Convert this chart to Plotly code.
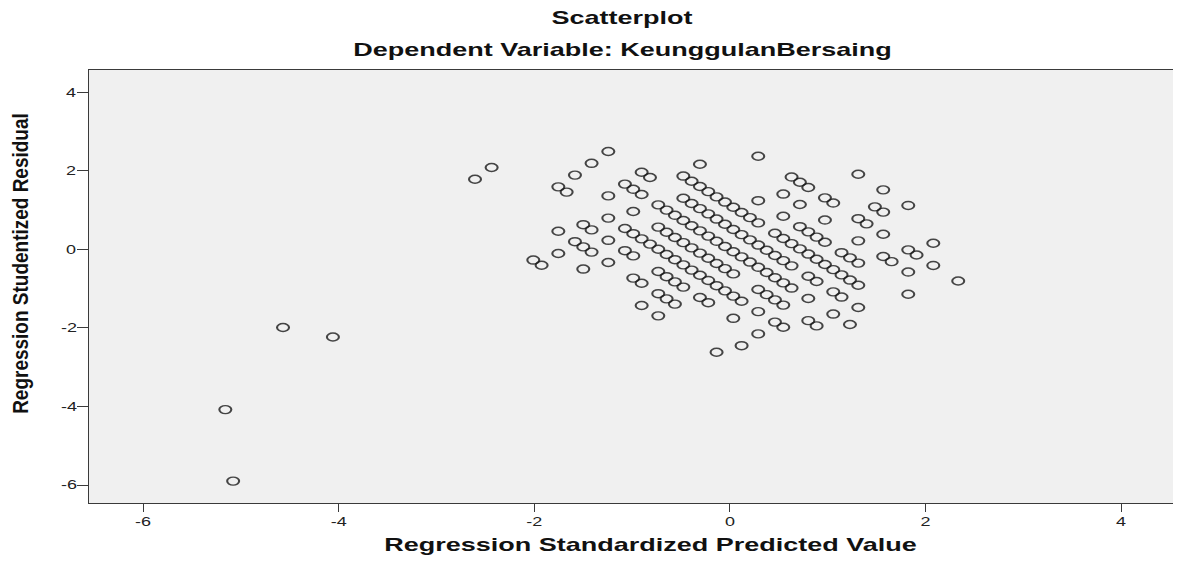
import plotly.graph_objects as go

# Regression Standardized Predicted Value (x) and Studentized Residual (y)
pred_a = [1.312, 1.567, 1.823, 1.482, 1.567, 2.079,
          0.289, 0.630, 0.715, 0.801, 0.971, 1.056, 1.312, 1.397, 1.567, 1.823, 1.908, 2.079, 2.334,
          0.545, 0.715, 0.971, 1.312, 1.567, 1.653, 1.823,
          -0.307, 0.289, 0.545, 0.715, 0.801, 0.886, 0.971, 1.141, 1.227, 1.312, 1.823]
resid_a = [1.913, 1.516, 1.119, 1.083, 0.950, 0.156,
           2.371, 1.842, 1.709, 1.577, 1.312, 1.180, 0.782, 0.650, 0.385, -0.012, -0.144, -0.409, -0.806,
           1.409, 1.144, 0.747, 0.217, -0.180, -0.312, -0.577,
           2.167, 1.240, 0.843, 0.578, 0.446, 0.313, 0.181, -0.084, -0.216, -0.349, -1.143]

pred_b = [-0.477, -0.392, -0.307, -0.222, -0.137, -0.051, 0.034, 0.119, 0.204, 0.289,
          0.460, 0.545, 0.630, 0.715, 0.801, 0.886, 0.971, 1.056, 1.141, 1.227, 1.312]
resid_b = [1.867, 1.734, 1.602, 1.470, 1.337, 1.205, 1.072, 0.940, 0.808, 0.675,
           0.410, 0.278, 0.146, 0.013, -0.119, -0.252, -0.384, -0.516, -0.649, -0.781, -0.914]

pred_c = [-1.244, -0.903, -0.818, -0.477, -0.392, -0.307, -0.222, -0.137, -0.051, 0.034, 0.119,
          0.204, 0.289, 0.375, 0.460, 0.545, 0.630, 0.801, 0.886, 1.056, 1.141, 1.312]
resid_c = [2.493, 1.964, 1.831, 1.302, 1.169, 1.037, 0.905, 0.772, 0.640, 0.507, 0.375,
           0.243, 0.110, -0.022, -0.155, -0.287, -0.419, -0.684, -0.817, -1.081, -1.214, -1.479]

pred_d = [-1.415, -1.074, -0.989, -0.903, -0.733, -0.648, -0.563, -0.477, -0.392, -0.307, -0.222,
          -0.137, -0.051, 0.034, 0.119, 0.204, 0.289, 0.375, 0.460, 0.545, 0.630, 0.801, 1.056, 1.227]
resid_d = [2.192, 1.663, 1.530, 1.398, 1.133, 1.001, 0.868, 0.736, 0.603, 0.471, 0.339,
           0.206, 0.074, -0.059, -0.191, -0.323, -0.456, -0.588, -0.721, -0.853, -0.985, -1.250, -1.647, -1.912]

pred_e = [-1.585, -1.244, -0.989, -0.733, -0.648, -0.563, -0.477, -0.392, -0.307, -0.222, -0.137,
          -0.051, 0.034, 0.289, 0.375, 0.460, 0.545, 0.801, 0.886]
resid_e = [1.892, 1.362, 0.965, 0.568, 0.436, 0.303, 0.171, 0.038, -0.094, -0.226, -0.359,
           -0.491, -0.624, -1.021, -1.153, -1.286, -1.418, -1.815, -1.948]

pred_f = [-1.755, -1.670, -1.244, -1.074, -0.989, -0.903, -0.818, -0.733, -0.648, -0.563, -0.477,
          -0.392, -0.307, -0.222, -0.137, -0.051, 0.034, 0.119, 0.289, 0.460, 0.545]
resid_f = [1.592, 1.459, 0.797, 0.533, 0.400, 0.268, 0.135, 0.003, -0.129, -0.262, -0.394,
           -0.527, -0.659, -0.791, -0.924, -1.056, -1.189, -1.321, -1.586, -1.851, -1.983]

pred_g = [-2.437, -1.500, -1.415, -1.244, -1.074, -0.989, -0.733, -0.648, -0.563, -0.477,
          -0.307, -0.222, 0.034, 0.289]
resid_g = [2.085, 0.629, 0.496, 0.231, -0.033, -0.166, -0.563, -0.695, -0.828, -0.960,
           -1.225, -1.357, -1.755, -2.152]

pred_h = [-2.607, -1.755, -1.585, -1.500, -1.415, -1.244, -0.989, -0.903, -0.733, -0.648, -0.563, 0.119,
          -1.755, -1.500, -0.903, -0.733, -0.137, -2.011, -1.926]
resid_h = [1.785, 0.461, 0.196, 0.064, -0.069, -0.334, -0.731, -0.863, -1.128, -1.260, -1.393, -2.452,
           -0.104, -0.501, -1.428, -1.693, -2.620, -0.272, -0.404]

pred_out = [-4.57, -4.06, -5.16, -5.08]
resid_out = [-1.99, -2.23, -4.08, -5.90]

tick_vals = [-6, -4, -2, 0, 2, 4]
tick_text = ["-6", "-4", "-2", "0", "2", "4"]

xs = pred_a + pred_b + pred_c + pred_d + pred_e + pred_f + pred_g + pred_h + pred_out
ys = resid_a + resid_b + resid_c + resid_d + resid_e + resid_f + resid_g + resid_h + resid_out

FONT = "Liberation Sans, Arial, sans-serif"

fig = go.Figure()
fig.add_trace(go.Scatter(
    x=xs, y=ys, mode="markers",
    marker=dict(symbol="circle-open", size=8, color="rgba(25,25,25,0.8)",
                line=dict(width=1.4, color="rgba(25,25,25,0.8)")),
    showlegend=False, hoverinfo="skip"))

axis_common = dict(
    showgrid=False, zeroline=False, showline=True, linecolor="#3a3a3a", linewidth=1.2,
    mirror=True, ticks="outside", tickcolor="#3a3a3a", tickwidth=1.2,
    tickvals=tick_vals, ticktext=tick_text,
    tickfont=dict(family=FONT, size=12, color="#222222"),
)

fig.update_layout(
    width=1173, height=553,
    margin=dict(l=81, r=4, t=62, b=58),
    paper_bgcolor="white", plot_bgcolor="#f0f0f0",
    xaxis=dict(range=[-6.554, 4.571], ticklen=8, **axis_common),
    yaxis=dict(range=[-6.458, 4.568], ticklen=11, **axis_common),
)

fig.add_annotation(text="<b>Scatterplot</b>", xref="paper", yref="paper", x=0.49, y=1.0, yshift=52,
                   yanchor="middle", showarrow=False, font=dict(family=FONT, size=18, color="#111"))
fig.add_annotation(text="<b>Dependent Variable: KeunggulanBersaing</b>", xref="paper", yref="paper",
                   x=0.49, y=1.0, yshift=20, yanchor="middle", showarrow=False,
                   font=dict(family=FONT, size=18, color="#111"))
fig.add_annotation(text="<b>Regression Standardized Predicted Value</b>", xref="paper", yref="paper",
                   x=0.516, y=0, yshift=-42, yanchor="middle", showarrow=False,
                   font=dict(family=FONT, size=18, color="#111"))
fig.add_annotation(text="<b>Regression Studentized Residual</b>", xref="paper", yref="paper",
                   x=0, y=0.552, xshift=-68, xanchor="center", yanchor="middle", textangle=-90,
                   showarrow=False, font=dict(family=FONT, size=19, color="#111"))

# stretch marks and texts horizontally like the original (non-square export)
post = """
var gd = document.getElementById('{plot_id}');
function stretch(el, sx, sy) {
  var b = el.getBBox();
  var cx = b.x + b.width / 2, cy = b.y + b.height / 2;
  var tr = el.getAttribute('transform') || '';
  el.setAttribute('transform', tr + ' translate(' + cx + ',' + cy + ') scale(' + sx + ',' + sy + ') translate(' + (-cx) + ',' + (-cy) + ')');
}
gd.querySelectorAll('.scatterlayer .point').forEach(function(p) {
  var tr = p.getAttribute('transform') || '';
  p.setAttribute('transform', tr + ' scale(1.5,1)');
});
gd.querySelectorAll('.annotation-text').forEach(function(t) {
  if (t.textContent.indexOf('Residual') >= 0) { stretch(t, 1, 1.2); } else { stretch(t, 1.5, 1); }
});
gd.querySelectorAll('.xtick text, .ytick text').forEach(function(t) { stretch(t, 1.5, 1); });
"""

fig.write_html("out.html", post_script=post)
